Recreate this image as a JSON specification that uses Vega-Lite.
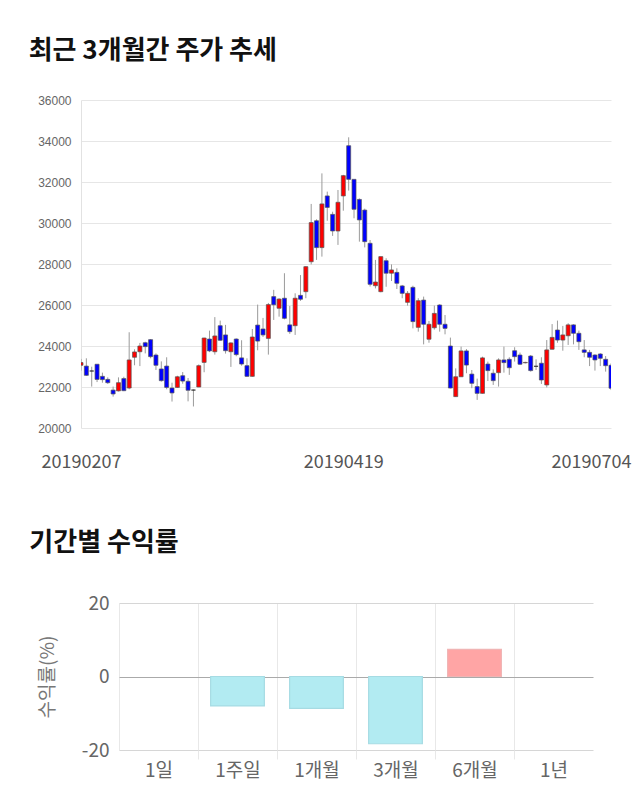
{
  "$schema": "https://vega.github.io/schema/vega-lite/v6.json",
  "padding": {"left": 28, "top": 38, "right": 10, "bottom": 5},
  "background": "white",
  "config": {"view": {"stroke": null}, "font": "Noto Sans CJK KR"},
  "spacing": 59,
  "vconcat": [
    {
      "title": {"text": "최근 3개월간 주가 추세", "anchor": "start", "frame": "bounds", "fontSize": 26, "fontWeight": "bold", "color": "#111111", "offset": 30, "dx": -9},
      "width": 530,
      "height": 328,
      "data": {"values": [
        {"date":"20190207","open":23060,"high":23370,"low":22800,"close":23190},
        {"date":"20190211","open":23020,"high":23400,"low":22540,"close":22570},
        {"date":"20190212","open":22780,"high":22990,"low":22020,"close":22780},
        {"date":"20190213","open":23110,"high":23110,"low":22240,"close":22370},
        {"date":"20190214","open":22520,"high":22700,"low":22210,"close":22360},
        {"date":"20190215","open":22370,"high":22470,"low":22150,"close":22210},
        {"date":"20190218","open":21850,"high":22020,"low":21530,"close":21660},
        {"date":"20190219","open":21810,"high":22470,"low":21780,"close":22210},
        {"date":"20190220","open":22410,"high":22500,"low":21800,"close":21820},
        {"date":"20190221","open":21950,"high":24670,"low":21890,"close":23320},
        {"date":"20190222","open":23450,"high":23840,"low":23060,"close":23710},
        {"date":"20190225","open":23720,"high":24150,"low":23020,"close":24000},
        {"date":"20190226","open":24160,"high":24210,"low":23640,"close":23970},
        {"date":"20190227","open":24310,"high":24340,"low":23400,"close":23480},
        {"date":"20190228","open":23560,"high":23640,"low":22830,"close":23060},
        {"date":"20190304","open":22880,"high":23250,"low":22260,"close":22310},
        {"date":"20190305","open":23020,"high":23450,"low":21890,"close":21980},
        {"date":"20190306","open":21950,"high":22210,"low":21290,"close":21710},
        {"date":"20190307","open":21980,"high":22550,"low":21950,"close":22500},
        {"date":"20190308","open":22550,"high":22730,"low":22160,"close":22290},
        {"date":"20190311","open":22280,"high":22440,"low":21300,"close":21840},
        {"date":"20190312","open":21850,"high":21880,"low":21050,"close":21850},
        {"date":"20190313","open":22000,"high":23100,"low":21990,"close":23040},
        {"date":"20190314","open":23200,"high":24400,"low":22720,"close":24390},
        {"date":"20190315","open":24340,"high":24750,"low":23700,"close":23760},
        {"date":"20190318","open":23720,"high":25410,"low":23580,"close":24490},
        {"date":"20190319","open":24990,"high":25240,"low":24250,"close":24280},
        {"date":"20190320","open":24540,"high":25030,"low":23630,"close":23770},
        {"date":"20190321","open":23720,"high":24180,"low":22980,"close":24150},
        {"date":"20190322","open":24340,"high":24370,"low":23500,"close":23580},
        {"date":"20190325","open":23420,"high":24280,"low":23040,"close":23120},
        {"date":"20190326","open":23040,"high":23400,"low":22490,"close":22520},
        {"date":"20190327","open":22520,"high":24830,"low":22500,"close":24440},
        {"date":"20190328","open":25020,"high":26020,"low":23790,"close":24240},
        {"date":"20190329","open":24830,"high":25370,"low":24440,"close":24540},
        {"date":"20190401","open":24370,"high":26100,"low":23580,"close":26020},
        {"date":"20190402","open":26410,"high":26740,"low":25270,"close":26010},
        {"date":"20190403","open":25840,"high":26330,"low":25430,"close":26290},
        {"date":"20190404","open":26330,"high":27550,"low":25300,"close":25350},
        {"date":"20190405","open":25030,"high":25950,"low":24590,"close":24700},
        {"date":"20190408","open":24990,"high":26570,"low":24540,"close":26330},
        {"date":"20190409","open":26470,"high":27460,"low":26200,"close":26280},
        {"date":"20190410","open":26650,"high":27900,"low":26330,"close":27870},
        {"date":"20190411","open":28110,"high":30930,"low":27980,"close":30020},
        {"date":"20190412","open":30110,"high":30180,"low":28200,"close":28800},
        {"date":"20190415","open":28800,"high":32420,"low":28360,"close":30930},
        {"date":"20190416","open":31320,"high":31530,"low":30110,"close":30760},
        {"date":"20190417","open":30420,"high":30550,"low":29370,"close":29610},
        {"date":"20190418","open":29610,"high":31610,"low":28930,"close":31010},
        {"date":"20190419","open":31320,"high":32350,"low":30600,"close":32310},
        {"date":"20190422","open":33770,"high":34180,"low":31580,"close":32130},
        {"date":"20190423","open":32130,"high":32130,"low":30230,"close":30670},
        {"date":"20190424","open":31150,"high":31200,"low":29090,"close":30150},
        {"date":"20190425","open":30630,"high":30700,"low":28810,"close":29090},
        {"date":"20190426","open":29010,"high":29170,"low":26900,"close":27010},
        {"date":"20190429","open":26940,"high":28200,"low":26810,"close":27120},
        {"date":"20190430","open":26650,"high":28360,"low":26620,"close":28360},
        {"date":"20190502","open":28160,"high":28280,"low":26890,"close":27550},
        {"date":"20190503","open":27550,"high":27980,"low":27170,"close":27710},
        {"date":"20190507","open":27590,"high":27790,"low":26780,"close":27060},
        {"date":"20190508","open":26930,"high":26980,"low":26330,"close":26570},
        {"date":"20190509","open":26130,"high":26680,"low":25970,"close":26570},
        {"date":"20190510","open":26860,"high":26940,"low":24860,"close":25190},
        {"date":"20190513","open":24910,"high":26330,"low":24700,"close":26210},
        {"date":"20190514","open":26240,"high":26410,"low":24080,"close":25060},
        {"date":"20190515","open":24330,"high":25220,"low":24160,"close":25060},
        {"date":"20190516","open":24890,"high":25970,"low":24800,"close":25590},
        {"date":"20190517","open":26000,"high":26040,"low":24700,"close":25060},
        {"date":"20190520","open":25060,"high":25510,"low":24570,"close":24860},
        {"date":"20190521","open":24000,"high":24410,"low":21930,"close":21950},
        {"date":"20190522","open":21530,"high":22910,"low":21520,"close":22500},
        {"date":"20190523","open":22500,"high":23970,"low":22490,"close":23760},
        {"date":"20190524","open":23760,"high":23850,"low":22670,"close":23070},
        {"date":"20190527","open":22630,"high":22830,"low":21940,"close":22180},
        {"date":"20190528","open":22020,"high":22410,"low":21370,"close":21690},
        {"date":"20190529","open":21690,"high":23480,"low":21680,"close":23420},
        {"date":"20190530","open":23120,"high":23240,"low":22290,"close":22800},
        {"date":"20190531","open":22670,"high":22860,"low":22100,"close":22310},
        {"date":"20190604","open":22700,"high":23400,"low":22020,"close":23320},
        {"date":"20190605","open":23320,"high":23970,"low":22700,"close":23190},
        {"date":"20190607","open":23350,"high":23450,"low":22590,"close":22940},
        {"date":"20190610","open":23770,"high":23940,"low":23240,"close":23480},
        {"date":"20190611","open":23560,"high":23680,"low":23070,"close":23110},
        {"date":"20190612","open":23180,"high":23230,"low":23150,"close":23200},
        {"date":"20190613","open":23510,"high":23560,"low":22750,"close":22800},
        {"date":"20190614","open":23010,"high":23350,"low":22830,"close":23010},
        {"date":"20190617","open":23160,"high":23450,"low":22150,"close":22340},
        {"date":"20190618","open":22100,"high":24290,"low":21980,"close":23810},
        {"date":"20190619","open":23840,"high":25070,"low":23830,"close":24420},
        {"date":"20190620","open":24780,"high":25240,"low":24160,"close":24290},
        {"date":"20190621","open":24290,"high":24980,"low":23770,"close":24540},
        {"date":"20190624","open":24500,"high":25110,"low":24050,"close":25030},
        {"date":"20190625","open":25030,"high":25060,"low":24080,"close":24620},
        {"date":"20190626","open":24620,"high":24750,"low":23810,"close":24210},
        {"date":"20190627","open":23810,"high":24290,"low":23450,"close":23690},
        {"date":"20190628","open":23690,"high":23810,"low":23020,"close":23450},
        {"date":"20190701","open":23560,"high":23600,"low":22800,"close":23320},
        {"date":"20190702","open":23610,"high":23650,"low":23020,"close":23400},
        {"date":"20190703","open":23350,"high":23510,"low":22750,"close":23040},
        {"date":"20190704","open":23060,"high":23150,"low":21850,"close":21940}
      ]},
      "encoding": {
        "x": {
          "field": "date", "type": "ordinal",
          "scale": {"type": "point", "padding": 0},
          "axis": {
            "values": ["20190207", "20190419", "20190704"],
            "title": null, "labelAngle": 0, "labelFontSize": 18, "labelColor": "#555555",
            "ticks": false, "domain": false, "grid": false, "labelPadding": 25,
            "labelOffset": {"condition": {"test": "datum.value == '20190704'", "value": -20}, "value": 0}
          }
        }
      },
      "layer": [
        {
          "mark": {"type": "rule", "color": "#9a9a9a", "strokeWidth": 1, "clip": true},
          "encoding": {
            "y": {"field": "low", "type": "quantitative", "scale": {"domain": [20000, 36000], "zero": false, "nice": false},
              "axis": {"values": [20000, 22000, 24000, 26000, 28000, 30000, 32000, 34000, 36000], "title": null,
                "labelExpr": "'' + datum.value",
                "labelFont": "Liberation Sans", "labelFontSize": 12, "labelColor": "#666666", "ticks": false,
                "domain": true, "domainColor": "#e2e2e2", "gridColor": "#e6e6e6", "labelPadding": 10}},
            "y2": {"field": "high"}
          }
        },
        {
          "mark": {"type": "bar", "width": 4, "strokeWidth": 0.7, "clip": true},
          "encoding": {
            "y": {"field": "open", "type": "quantitative"},
            "y2": {"field": "close"},
            "fill": {"condition": {"test": "datum.close > datum.open", "value": "#ff0000"}, "value": "#0000ff"},
            "stroke": {"condition": {"test": "datum.close == datum.open", "value": "#222222"}, "value": "#555555"}
          }
        }
      ]
    },
    {
      "title": {"text": "기간별 수익률", "anchor": "start", "frame": "bounds", "fontSize": 26, "fontWeight": "bold", "color": "#111111", "offset": 38, "dx": -9},
      "width": 512,
      "height": 147,
      "data": {"values": [
        {"period": "1일", "value": null},
        {"period": "1주일", "value": -8.0},
        {"period": "1개월", "value": -8.7},
        {"period": "3개월", "value": -18.3},
        {"period": "6개월", "value": 7.4},
        {"period": "1년", "value": null}
      ]},
      "mark": {"type": "bar", "width": {"band": 0.68}, "strokeWidth": 1.2},
      "encoding": {
        "x": {
          "field": "period", "type": "nominal", "sort": null,
          "scale": {"domain": ["1일", "1주일", "1개월", "3개월", "6개월", "1년"], "range": [38, 512], "paddingInner": 0, "paddingOuter": 0},
          "axis": {"title": null, "labelAngle": 0, "labelFontSize": 19, "labelColor": "#666666",
            "tickBand": "extent", "grid": true, "ticks": true, "tickSize": 9,
            "gridColor": {"condition": {"test": "datum.value == '1년'", "value": "transparent"}, "value": "#e8e8e8"},
            "tickColor": {"condition": {"test": "datum.value == '1년' || datum.extra", "value": "transparent"}, "value": "#e8e8e8"},
            "domain": false, "labelPadding": 2}
        },
        "y": {
          "field": "value", "type": "quantitative",
          "scale": {"domain": [-20, 20], "nice": false},
          "axis": {"values": [-20, 0, 20], "title": "수익률(%)", "titleFontSize": 19, "titleFontWeight": "normal", "titleColor": "#777777",
            "labelExpr": "'' + datum.value", "offset": -38,
            "titlePadding": 24, "labelFontSize": 19, "labelColor": "#666666", "ticks": false, "domain": false,
            "labelPadding": 10,
            "gridColor": {"condition": {"test": "datum.value == 0", "value": "#aaaaaa"}, "value": "#d6d6d6"}}
        },
        "fill": {"condition": {"test": "datum.value > 0", "value": "#ffa5a5"}, "value": "#b2ebf2"},
        "stroke": {"condition": {"test": "datum.value > 0", "value": "#f0b4b4"}, "value": "#a6dbe3"}
      }
    }
  ]
}
